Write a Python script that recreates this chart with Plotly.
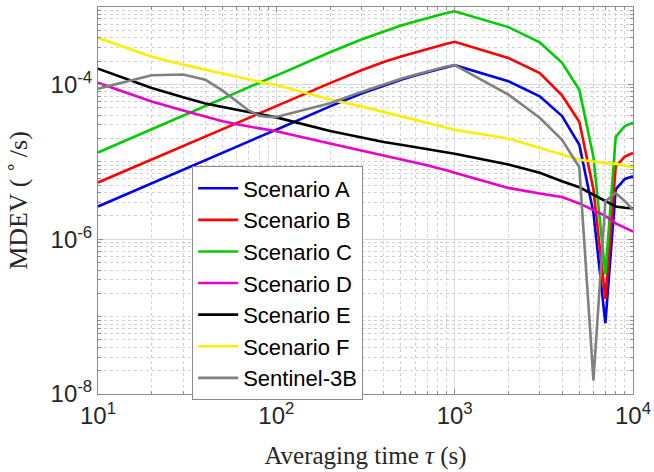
import plotly.graph_objects as go

tau = [10, 20, 30, 40, 50, 60, 70, 80, 90,
       100, 200, 300, 400, 500, 600, 700, 800, 900,
       1000, 2000, 3000, 4000, 5000, 6000, 7000, 8000, 9000, 10000]

scen_a = [2.65e-6, 5.3e-6, 8.0e-6, 1.06e-5, 1.32e-5, 1.58e-5, 1.84e-5, 2.1e-5, 2.35e-5,
          2.6e-5, 5.2e-5, 7.6e-5, 9.7e-5, 1.15e-4, 1.3e-4, 1.44e-4, 1.56e-4, 1.67e-4,
          1.77e-4, 1.1e-4, 7.0e-5, 3.9e-5, 1.66e-5, 2.2e-6, 8.2e-8, 4.4e-6, 6.0e-6, 6.5e-6]

scen_b = [5.4e-6, 1.07e-5, 1.6e-5, 2.13e-5, 2.65e-5, 3.18e-5, 3.7e-5, 4.2e-5, 4.75e-5,
          5.25e-5, 1.04e-4, 1.52e-4, 1.95e-4, 2.3e-4, 2.6e-4, 2.88e-4, 3.12e-4, 3.35e-4,
          3.55e-4, 2.2e-4, 1.4e-4, 7.2e-5, 3.3e-5, 4.4e-6, 1.7e-7, 8.7e-6, 1.17e-5, 1.3e-5]

scen_c = [1.32e-5, 2.65e-5, 4.0e-5, 5.3e-5, 6.6e-5, 7.9e-5, 9.2e-5, 1.05e-4, 1.18e-4,
          1.3e-4, 2.6e-4, 3.8e-4, 4.85e-4, 5.75e-4, 6.5e-4, 7.2e-4, 7.8e-4, 8.35e-4,
          8.8e-4, 5.5e-4, 3.5e-4, 1.9e-4, 8.5e-5, 1.15e-5, 3.5e-7, 2.1e-5, 2.9e-5, 3.2e-5]

scen_d = [1.05e-4, 6.0e-5, 4.6e-5, 3.8e-5, 3.35e-5, 3.05e-5, 2.85e-5, 2.7e-5, 2.58e-5,
          2.48e-5, 1.72e-5, 1.4e-5, 1.21e-5, 1.07e-5, 9.8e-6, 9.0e-6, 8.3e-6, 7.8e-6,
          7.2e-6, 4.6e-6, 3.9e-6, 3.5e-6, 2.9e-6, 2.4e-6, 2.0e-6, 1.6e-6, 1.4e-6, 1.25e-6]

scen_e = [1.6e-4, 9.0e-5, 6.8e-5, 5.65e-5, 5.1e-5, 4.7e-5, 4.4e-5, 4.1e-5, 3.9e-5,
          3.75e-5, 2.5e-5, 2.05e-5, 1.8e-5, 1.66e-5, 1.55e-5, 1.45e-5, 1.38e-5, 1.32e-5,
          1.27e-5, 9.2e-6, 7.2e-6, 5.6e-6, 4.7e-6, 3.75e-6, 3.1e-6, 2.65e-6, 2.55e-6, 2.5e-6]

scen_f = [4.0e-4, 2.27e-4, 1.8e-4, 1.55e-4, 1.38e-4, 1.25e-4, 1.15e-4, 1.08e-4, 1.02e-4,
          9.8e-5, 6.4e-5, 5.2e-5, 4.4e-5, 3.9e-5, 3.5e-5, 3.2e-5, 2.95e-5, 2.75e-5,
          2.6e-5, 2.0e-5, 1.5e-5, 1.24e-5, 1.06e-5, 1.01e-5, 9.6e-6, 9.4e-6, 9.0e-6, 8.5e-6]

sentinel = [8.8e-5, 1.31e-4, 1.34e-4, 1.15e-4, 8.3e-5, 6.0e-5, 4.6e-5, 3.95e-5, 3.8e-5,
            3.8e-5, 5.7e-5, 8.0e-5, 1.0e-4, 1.18e-4, 1.33e-4, 1.47e-4, 1.59e-4, 1.7e-4,
            1.78e-4, 7.4e-5, 3.7e-5, 1.93e-5, 8.5e-6, 1.5e-8, 3.1e-6, 3.95e-6, 3.1e-6, 2.4e-6]

names = ["Scenario A", "Scenario B", "Scenario C", "Scenario D",
         "Scenario E", "Scenario F", "Sentinel-3B"]
series = [scen_a, scen_b, scen_c, scen_d, scen_e, scen_f, sentinel]
colors = ["#0000f0", "#ff0000", "#00cc00", "#e800c8", "#000000", "#ffee00", "#808080"]

x_tickvals = [10, 100, 1000, 10000]
x_ticktext = ["10<sup>1</sup>", "10<sup>2</sup>", "10<sup>3</sup>", "10<sup>4</sup>"]
y_tickvals = [1e-8, 1e-6, 1e-4]
y_ticktext = ["10<sup>-8</sup>", "10<sup>-6</sup>", "10<sup>-4</sup>"]

fig = go.Figure()
for nm, ys, c in zip(names, series, colors):
    fig.add_trace(go.Scatter(x=tau, y=ys, mode="lines", name=nm,
                             line=dict(color=c, width=2.6)))

grid_major = "#dadada"
grid_minor = "#d0d0d0"
axis_common = dict(
    type="log", showline=True, mirror="ticks", linecolor="#8c8c8c", linewidth=1,
    ticks="inside", ticklen=5, tickcolor="#8c8c8c",
    showgrid=True, gridcolor=grid_major, gridwidth=1,
    tickfont=dict(family="Liberation Sans, Arial", size=24, color="#262626"),
    minor=dict(dtick="D1", ticks="inside", ticklen=3, tickcolor="#8c8c8c",
               showgrid=True, gridcolor=grid_minor, griddash="dot", gridwidth=1),
    zeroline=False, automargin=False,
)

serif = "Liberation Serif, Times New Roman, serif"
fig.update_xaxes(**axis_common, range=[1, 4], tickvals=x_tickvals, ticktext=x_ticktext,
                 title=dict(text="Averaging time <i>τ</i> (s)", standoff=18,
                            font=dict(family=serif, size=25, color="#262626")))
fig.update_yaxes(**axis_common, range=[-8, -3], tickvals=y_tickvals, ticktext=y_ticktext,
                 title=dict(text="MDEV (\u2009<sup>∘</sup>\u2009/s)", standoff=30,
                            font=dict(family=serif, size=26, color="#262626")))

fig.update_layout(
    width=654, height=472,
    margin=dict(l=98, r=21, t=7, b=78),
    paper_bgcolor="white", plot_bgcolor="white",
    legend=dict(x=0.176, y=0.588, xanchor="left", yanchor="top",
                bgcolor="white", bordercolor="#8c8c8c", borderwidth=1,
                font=dict(family="Liberation Sans, Arial", size=22, color="#000000"),
                tracegroupgap=0, itemwidth=40),
    showlegend=True,
)

fig.write_html("out.html", config={"displayModeBar": False},
               post_script="document.body.style.margin='0';")
